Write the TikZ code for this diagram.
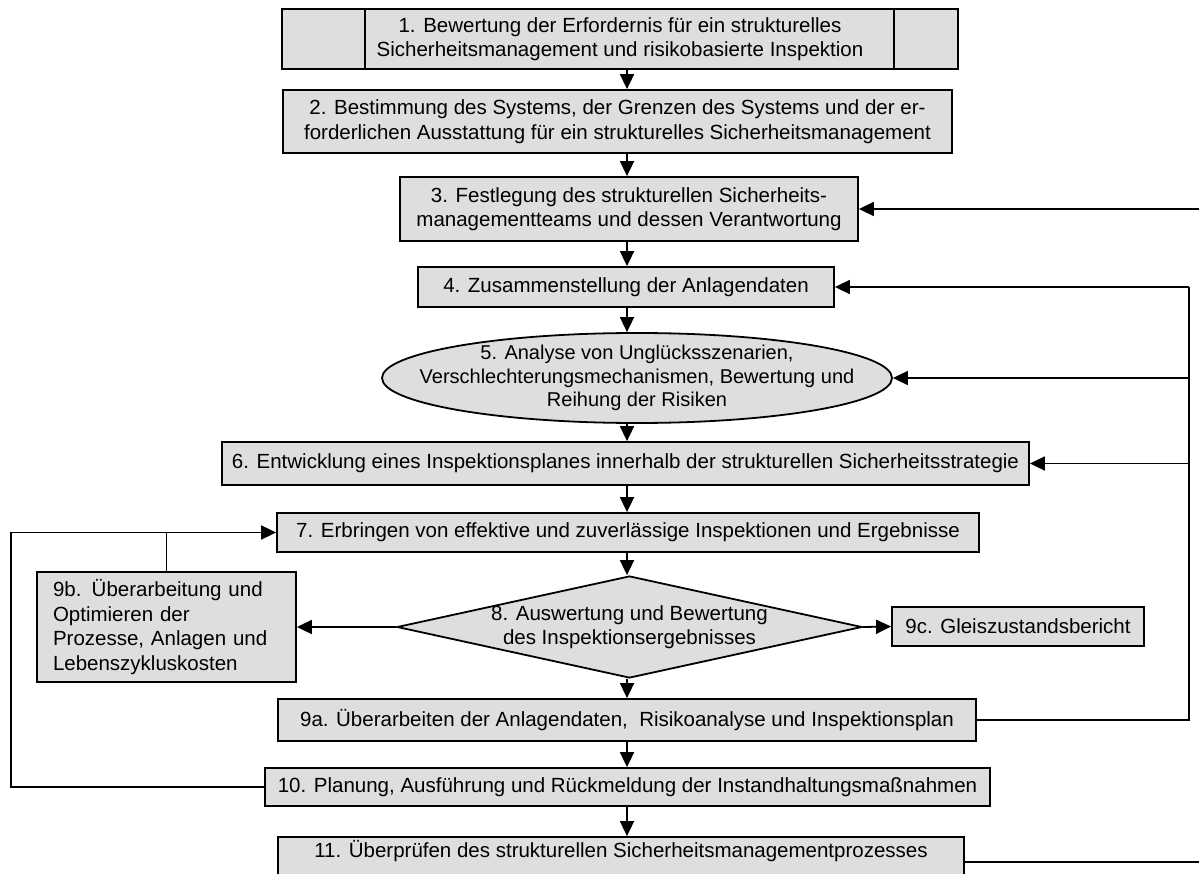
\documentclass[tikz,border=0pt]{standalone}
\usepackage{fontspec}
\setmainfont{Liberation Sans}
\usetikzlibrary{shapes.geometric,arrows.meta,calc}
\definecolor{boxgray}{RGB}{222,222,222}
\newcommand\diagfont{\fontsize{20.5}{24.5}\selectfont}
\newcommand\ellfont{\fontsize{20}{23.5}\selectfont}
\tikzset{
  box/.style={draw, line width=1.8pt, fill=boxgray, inner sep=0pt, align=center, font=\diagfont},
  arr/.style={-{Triangle[length=15pt,width=14pt]}, line width=1.8pt},
  ln/.style={line width=1.8pt},
  inlabel/.style={font=\diagfont, align=center}
}
\begin{document}
\begin{tikzpicture}[x=1pt,y=-1pt]
\useasboundingbox (0,0) rectangle (1199,874);
\clip (0,0) rectangle (1199,874);
\fill[white] (0,0) rectangle (1199,874);
\coordinate (mx) at (627,0);
\coordinate (rx) at (1189,0);
\coordinate (lx) at (11,0);
\coordinate (edgeR) at (1215,0);

\node[box, minimum width=676pt, minimum height=60pt] (b1) at (620,39)
  {1. Bewertung der Erfordernis für ein strukturelles\\Sicherheitsmanagement und risikobasierte Inspektion};
\draw[line width=1.8pt] ($(b1.north west)+(84,0)$) -- ($(b1.south west)+(84,0)$);
\draw[line width=1.8pt] ($(b1.north east)+(-65,0)$) -- ($(b1.south east)+(-65,0)$);

\node[box, minimum width=669pt, minimum height=63pt] (b2) at (617.5,121.5)
  {2. Bestimmung des Systems, der Grenzen des Systems und der er-\\forderlichen Ausstattung für ein strukturelles Sicherheitsmanagement};
\node[box, minimum width=458pt, minimum height=64pt] (b3) at (629,209)
  {3. Festlegung des strukturellen Sicherheits-\\managementteams und dessen Verantwortung};
\node[box, minimum width=416pt, minimum height=40pt] (b4) at (626,287)
  {4. Zusammenstellung der Anlagendaten};
\node[box, ellipse, minimum width=510pt, minimum height=90pt,
  label={[name=e5t, inlabel, font=\ellfont]center:5. Analyse von Unglücksszenarien,\\Verschlechterungsmechanismen, Bewertung und\\Reihung der Risiken}] (e5) at (637,378) {};
\node[box, minimum width=807pt, minimum height=43pt] (b6) at (625.5,463.5)
  {6. Entwicklung eines Inspektionsplanes innerhalb der strukturellen Sicherheitsstrategie};
\node[box, minimum width=702pt, minimum height=39pt] (b7) at (628,532.5)
  {7. Erbringen von effektive und zuverlässige Inspektionen und Ergebnisse};
\node[box, diamond, minimum width=465pt, minimum height=102pt,
  label={[name=d8t, inlabel]center:8. Auswertung und Bewertung\\des Inspektionsergebnisses}] (d8) at (629.5,627) {};
\node[box, minimum width=259pt, minimum height=110pt, text width=227pt, align=left] (b9b) at (166.5,627)
  {9b. Überarbeitung und\\Optimieren der\\Prozesse, Anlagen und\\Lebenszykluskosten};
\node[box, minimum width=252pt, minimum height=39pt] (b9c) at (1018,626.5)
  {9c. Gleiszustandsbericht};
\node[box, minimum width=698pt, minimum height=42pt] (b9a) at (627,720)
  {9a. Überarbeiten der Anlagendaten,\ \ Risikoanalyse und Inspektionsplan};
\node[box, minimum width=725pt, minimum height=38pt] (b10) at (627.5,787)
  {10. Planung, Ausführung und Rückmeldung der Instandhaltungsmaßnahmen};
\node[box, minimum width=686pt, text height=20pt, text depth=30pt] (b11) at (621,862)
  {11. Überprüfen des strukturellen Sicherheitsmanagementprozesses};

% main chain
\draw[arr] (b1.south -| mx) -- (b2.north -| mx);
\draw[arr] (b2.south -| mx) -- (b3.north -| mx);
\draw[arr] (b3.south -| mx) -- (b4.north -| mx);
\draw[arr] (b4.south -| mx) -- (e5.north -| mx);
\draw[arr] (e5.south -| mx) -- (b6.north -| mx);
\draw[arr] (b6.south -| mx) -- (b7.north -| mx);
\draw[arr] (b7.south -| mx) -- (d8.north -| mx);
\draw[arr] (d8.south -| mx) -- (b9a.north -| mx);
\draw[arr] (b9a.south -| mx) -- (b10.north -| mx);
\draw[arr] (b10.south -| mx) -- (b11.north -| mx);

% diamond branches
\draw[arr] (d8.west) -- (b9b.east);
\draw[arr] (d8.east) -- (b9c.west);

% right feedback
\draw[ln] (b9a.east) -- (b9a.east -| rx) -- (b4.east -| rx);
\draw[arr] (b4.east -| rx) -- (b4.east);
\draw[arr] (e5.east -| rx) -- (e5.east);
\draw[arr] (b6.east -| rx) -- (b6.east);
\draw[arr] (b3.east -| edgeR) -- (b3.east);
\draw[ln] (b11.east) -- (b11.east -| edgeR);

% left feedback
\draw[arr] (b10.west) -- (b10.west -| lx) -- (lx |- b7.west) -- (b7.west);
\draw[ln] (b9b.north) -- (b9b.north |- b7.west);
\end{tikzpicture}
\end{document}
